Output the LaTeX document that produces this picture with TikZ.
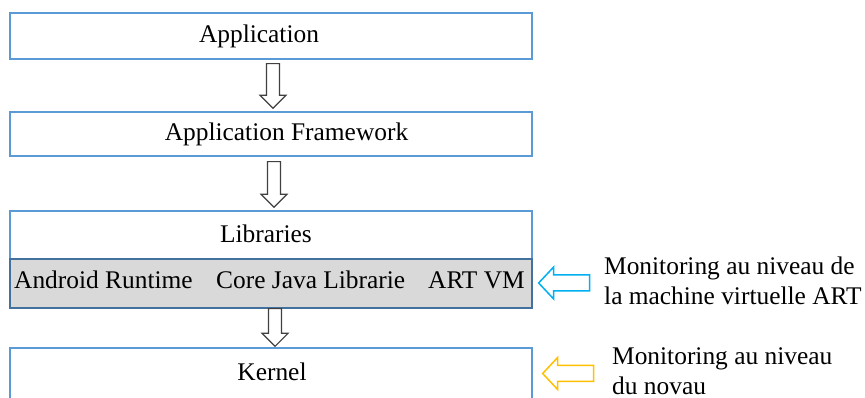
\documentclass[tikz,border=0pt]{standalone}
\usepackage{fontspec}
\setmainfont{Liberation Serif}
\usetikzlibrary{positioning, calc}
\definecolor{layerblue}{RGB}{91,155,213}
\definecolor{runtimegrey}{RGB}{217,217,217}
\definecolor{runtimeedge}{RGB}{65,113,156}
\definecolor{flowgrey}{RGB}{64,64,64}
\definecolor{artcyan}{RGB}{0,176,240}
\definecolor{kernelgold}{RGB}{255,192,0}

% hollow block arrow going down from one layer to the next
\newcommand{\flowdown}[2]{%
  \draw[flow] let \p1=(#1), \p2=(#2) in
    (\x1-6.5pt,\y1) -- (\x1+6.5pt,\y1) -- (\x1+6.5pt,\y2+13pt) -- (\x1+13pt,\y2+13pt)
    -- (\x1,\y2) -- (\x1-13pt,\y2+13pt) -- (\x1-6.5pt,\y2+13pt) -- cycle;}

% hollow block arrow pointing left at a layer
\newcommand{\flowleft}[2]{%
  \draw[monitor, draw=#2] let \p1=(#1) in
    (\p1) -- ++(15pt,16pt) -- ++(0,-8pt) -- ++(36pt,0) -- ++(0,-16pt)
    -- ++(-36pt,0) -- ++(0,-8pt) -- cycle;}

\begin{document}
\begin{tikzpicture}[x=1pt, y=1pt,
    layer/.style={draw=layerblue, line width=1.3pt, minimum width=522pt, inner sep=0pt},
    txt/.style={font=\fontsize{25.4}{30}\selectfont, inner sep=0pt},
    flow/.style={draw=flowgrey, fill=white, line width=1.2pt, line join=miter},
    monitor/.style={fill=white, line width=1.5pt, line join=miter}
]
    \useasboundingbox (0,0) rectangle (865,398);

    % Layers
    \node[layer, minimum height=46pt] (app) at (271,362) {};
    \node[layer, minimum height=44pt] (fw) at (271,264) {};
    \node[layer, minimum height=48pt] (lib) at (271,163) {};
    \node[layer, draw=runtimeedge, fill=runtimegrey, minimum height=49pt] (art) at (271,114.5) {};
    \node[layer, minimum height=52pt] (kern) at (271,24) {};

    % Layer names
    \node[txt] (apptxt) at (259,362) {Application};
    \node[txt] (fwtxt) at (286.5,264) {Application Framework};
    \node[txt] (libtxt) at (266,164) {Libraries};
    \node[txt] (kerntxt) at (272,26) {Kernel};

    % Runtime parts
    \node[txt, anchor=west] (runtime) at (14,118) {Android Runtime};
    \node[txt, anchor=west] (corejava) at (216,118) {Core Java Librarie};
    \node[txt, anchor=west] (artvm) at (428,118) {ART VM};

    % Arrows between layers
    \flowdown{[xshift=2pt, yshift=-4pt]app.south}{[xshift=2pt, yshift=3pt]fw.north}
    \flowdown{[xshift=3pt, yshift=-5pt]fw.south}{[xshift=3pt, yshift=3pt]lib.north}
    \flowdown{[xshift=4pt]art.south}{[xshift=4pt, yshift=1pt]kern.north}

    % Monitoring points
    \flowleft{[xshift=6pt, yshift=0.5pt]art.east}{artcyan}
    \flowleft{[xshift=10pt, yshift=0.5pt]kern.east}{kernelgold}

    \node[txt, anchor=west, align=left] (artnote) at (604,117) {Monitoring au niveau de\\la machine virtuelle ART};
    \node[txt, anchor=west, align=left] (kernnote) at (612,27) {Monitoring au niveau\\du novau};
\end{tikzpicture}
\end{document}
